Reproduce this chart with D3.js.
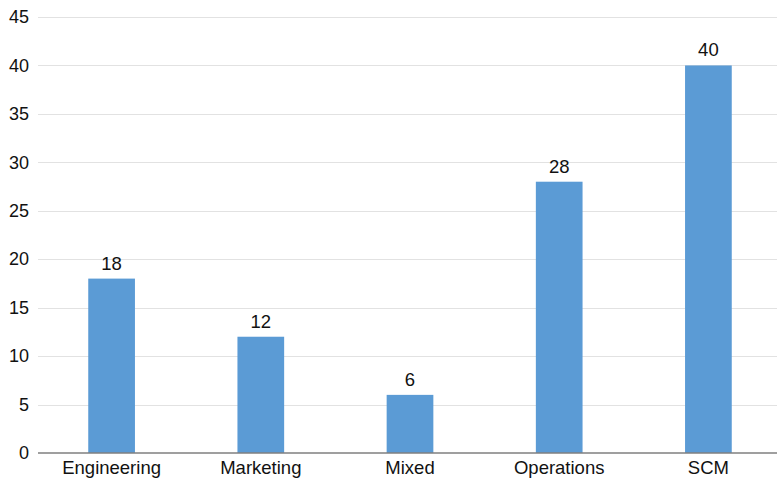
<!DOCTYPE html>
<html>
<head>
<meta charset="utf-8">
<script src="https://cdn.jsdelivr.net/npm/d3@7"></script>
<style>
  html, body { margin: 0; padding: 0; background: #ffffff; }
  svg { display: block; }
  text { font-family: "Liberation Sans", Arial, Helvetica, sans-serif; fill: #111; }
</style>
</head>
<body>
<svg id="chart" width="777" height="481"></svg>
<script>
// Team counts by function
const categories = ["Engineering", "Marketing", "Mixed", "Operations", "SCM"];
const values = [18, 12, 6, 28, 40];
const yTicks = [0, 5, 10, 15, 20, 25, 30, 35, 40, 45];

const W = 777, H = 481;
const plot = { left: 37, right: 783, top: 17, bottom: 453 };

const svg = d3.select("#chart");

const x = d3.scaleBand()
  .domain(categories)
  .range([plot.left, plot.right])
  .paddingInner(0)
  .paddingOuter(0);

const y = d3.scaleLinear()
  .domain([0, 45])
  .range([plot.bottom, plot.top]);

const barW = x.bandwidth() * 0.313;

// horizontal gridlines
svg.append("g")
  .selectAll("line")
  .data(yTicks.filter(d => d > 0))
  .join("line")
  .attr("x1", plot.left + 1)
  .attr("x2", W)
  .attr("y1", d => Math.round(y(d)) + 0.5)
  .attr("y2", d => Math.round(y(d)) + 0.5)
  .attr("stroke", "#e2e2e2")
  .attr("stroke-width", 1);

// y tick labels
const yAxis = d3.axisLeft(y).tickValues(yTicks).tickSize(0).tickPadding(8);
const gy = svg.append("g")
  .attr("transform", `translate(${plot.left},0)`)
  .call(yAxis);
gy.select(".domain").remove();
gy.selectAll("text")
  .attr("font-size", 18)
  .attr("fill", "#111")
  .style("font-family", '"Liberation Sans", Arial, sans-serif');

// bars
svg.append("g")
  .selectAll("rect")
  .data(values)
  .join("rect")
  .attr("x", (d, i) => x(categories[i]) + x.bandwidth() / 2 - barW / 2)
  .attr("y", d => y(d))
  .attr("width", barW)
  .attr("height", d => y(0) - y(d))
  .attr("fill", "#5b9bd5");

// value labels
svg.append("g")
  .selectAll("text")
  .data(values)
  .join("text")
  .attr("x", (d, i) => x(categories[i]) + x.bandwidth() / 2)
  .attr("y", d => y(d) - 9)
  .attr("text-anchor", "middle")
  .attr("font-size", 18.5)
  .text(d => d);

// x axis baseline
svg.append("line")
  .attr("x1", plot.left + 1)
  .attr("x2", W)
  .attr("y1", y(0))
  .attr("y2", y(0))
  .attr("stroke", "#7f7f7f")
  .attr("stroke-width", 1.3);

// category labels
const xAxis = d3.axisBottom(x).tickSize(0).tickPadding(8);
const gx = svg.append("g")
  .attr("transform", `translate(0,${plot.bottom})`)
  .call(xAxis);
gx.select(".domain").remove();
gx.selectAll("text")
  .attr("font-size", 18.5)
  .attr("fill", "#111")
  .style("font-family", '"Liberation Sans", Arial, sans-serif');
</script>
</body>
</html>
